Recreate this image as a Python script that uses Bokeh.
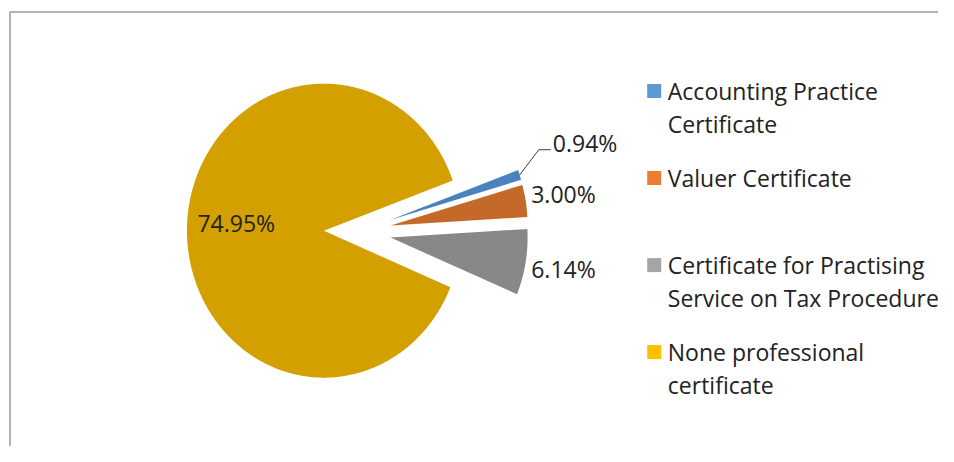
import numpy as np
from bokeh.plotting import figure
from bokeh.models import Range1d
from bokeh.core.properties import value
from bokeh.embed import file_html
from bokeh.resources import INLINE

# ---- data ----
categories = ["Accounting Practice\nCertificate",
              "Valuer Certificate",
              "Certificate for Practising\nService on Tax Procedure",
              "None professional\ncertificate"]
values = [0.94, 3.00, 6.14, 74.95]
slice_colors = ["#4A82BE", "#C5692A", "#888888", "#D4A000"]
legend_colors = ["#5B9BD5", "#ED7D31", "#A5A5A5", "#FFC000"]

# ---- layout / style ----
W, H = 938, 446
FONT = value("Open Sans")
FS = "23px"
TXT = "#222222"
TSHIFT = -9.5   # baseline correction for the renderer

p = figure(width=W, height=H, output_backend="svg", toolbar_location=None,
           x_range=Range1d(0, W), y_range=Range1d(H, 0),
           x_axis_location=None, y_axis_location=None, min_border=0,
           outline_line_color=None)
p.grid.visible = False
p.background_fill_color = "white"
p.border_fill_color = "white"

# frame (top and left edges visible)
p.line([9.5, 9.5, W], [H, 11.5, 11.5], line_color="#9A9A9A", line_width=1.5)

cx, cy = 357, 231
rx, ry = 137.0, 147.0
explode = 0.245
start = 20.0
label_k = [None, 1.28, 1.28, 0.64]
label_dy = [0, 9.7, 9.7, 4.0]

fr = np.array(values) / sum(values)
a = start
xs, ys = [], []
labels = []
leaders = []
for i, f in enumerate(fr):
    a0, a1 = a, a - f * 360.0
    a = a1
    b = np.radians((a0 + a1) / 2)
    vx = cx + explode * rx * np.cos(b)
    vy = cy - explode * ry * np.sin(b)
    t = np.radians(np.linspace(a0, a1, max(int(abs(a1 - a0) * 2), 6)))
    xs.append(list(np.concatenate([[vx], vx + rx * np.cos(t)])))
    ys.append(list(np.concatenate([[vy], vy - ry * np.sin(t)])))
    lab = f"{values[i]:.2f}%"
    if label_k[i] is None:
        pax = vx + rx * np.cos(b)
        pay = vy - ry * np.sin(b)
        ex, ey = pax + 19.1, pay - 25.2
        leaders.append(([pax, ex, ex + 12], [pay, ey, ey]))
        labels.append((ex + 14, ey + 2.4, lab, "left"))
    else:
        k = label_k[i]
        lx = vx + k * rx * np.cos(b)
        ly = vy - k * ry * np.sin(b) + label_dy[i]
        labels.append((lx, ly, lab, "center"))

p.patches(xs, ys, fill_color=slice_colors, line_color=None)
for lx_, ly_ in leaders:
    p.line(lx_, ly_, line_color="#404040", line_width=1)
for lx, ly, lab, al in labels:
    p.text(x=[lx], y=[ly + TSHIFT], text=[lab], text_font=FONT, text_font_size=FS,
           text_color=TXT, text_align=al, text_baseline="alphabetic")

# legend
sq_x = 653.7
txt_x = 667.3
base0 = 99.5
pitch = 87.0
lh = 33.0
for i, cat in enumerate(categories):
    yb = base0 + i * pitch
    p.rect(x=[sq_x], y=[yb - 8.9], width=14, height=14, fill_color=legend_colors[i], line_color=None)
    for j, line in enumerate(cat.split("\n")):
        p.text(x=[txt_x], y=[yb + j * lh + TSHIFT], text=[line], text_font=FONT, text_font_size=FS,
               text_color=TXT, text_align="left", text_baseline="alphabetic")

open("out.html", "w").write(file_html(p, INLINE))
